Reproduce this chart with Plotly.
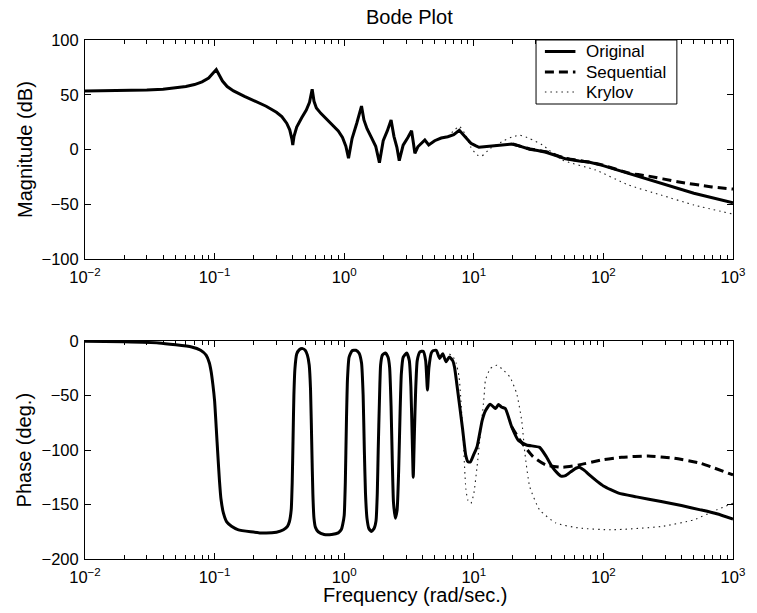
import plotly.graph_objects as go

# ---------------- data ----------------
# Magnitude (dB) - Original
mag_orig_f = [0.01, 0.015, 0.02, 0.03, 0.04, 0.05, 0.06, 0.07, 0.08, 0.09, 0.097, 0.103,
              0.108, 0.115, 0.125, 0.14, 0.17, 0.2, 0.25, 0.3, 0.33, 0.36, 0.38, 0.395,
              0.401, 0.41, 0.43, 0.47, 0.51, 0.54, 0.566, 0.585, 0.61, 0.66, 0.73, 0.82,
              0.9, 0.97, 1.03, 1.08, 1.15, 1.25, 1.36, 1.42, 1.5, 1.62, 1.75, 1.87, 2.0,
              2.15, 2.30, 2.42, 2.55, 2.66, 2.85, 3.1, 3.31, 3.42, 3.51, 3.7, 3.9, 4.19,
              4.49, 4.99, 5.6, 6.3, 7.0, 7.73, 8.3, 8.9, 9.5, 10.3, 10.96, 12.0, 13.4, 15.5,
              17.0, 19.6, 22.0, 24.0, 27.0, 31.0, 36.0, 43.0, 51.0, 65.0, 77.0, 98.0,
              156.0, 279.0, 499.0, 1000.0]
mag_orig_db = [53.4, 53.6, 53.8, 54.3, 55.0, 56.0, 57.5, 59.3, 61.8, 65.2, 69.0, 73.0,
               68.5, 62.5, 57.5, 53.5, 48.5, 45.0, 39.5, 34.0, 30.0, 24.0, 18.0, 9.5,
               4.1, 12.0, 20.5, 29.0, 36.0, 43.0, 55.0, 44.0, 38.0, 33.0, 28.0, 22.5,
               17.0, 11.0, 3.0, -8.0, 10.0, 24.0, 39.7, 27.0, 19.0, 11.0, 3.0, -12.0, 8.0,
               17.0, 26.9, 12.0, 2.0, -10.2, 4.0, 11.0, 17.2, 6.0, -3.5, 2.5, 5.5, 8.7,
               4.1, 8.0, 10.5, 11.7, 13.5, 17.5, 13.5, 9.0, 5.7, 3.5, 2.0, 2.5, 3.2, 4.0,
               4.5, 5.0, 3.5, 2.0, 0.2, -1.0, -2.5, -5.5, -8.5, -10.5, -11.5, -14.5,
               -21.7, -30.9, -40.0, -48.6]

# Magnitude (dB) - Sequential (where it departs from Original)
mag_seq_f = [20.0, 27.0, 36.0, 51.0, 77.0, 98.0, 156.0, 220.0, 373.0, 668.0, 1000.0]
mag_seq_db = [5.0, 0.5, -2.0, -8.0, -11.5, -14.0, -21.5, -24.2, -29.4, -34.0, -36.1]

# Magnitude (dB) - Krylov (where it departs from Original)
mag_kry_f = [6.3, 7.73, 8.6, 9.5, 10.6, 11.5, 13.4, 17.0, 20.0, 22.7, 27.0, 34.0, 48.0,
             87.0, 156.0, 279.0, 499.0, 1000.0]
mag_kry_db = [11.7, 21.0, 14.0, 2.0, -5.0, -6.0, 1.0, 8.0, 11.7, 13.0, 10.0, 4.0, -9.6,
              -18.7, -32.4, -41.6, -50.7, -59.0]

# Phase (deg.) - Original
ph_orig_f = [0.01, 0.02, 0.037, 0.0665, 0.078, 0.086, 0.091, 0.094, 0.097, 0.100, 0.103,
             0.106, 0.109, 0.112, 0.117, 0.124, 0.135, 0.151, 0.19, 0.24, 0.30, 0.34,
             0.365, 0.378, 0.39, 0.397, 0.403, 0.409, 0.417, 0.43, 0.45, 0.478, 0.50,
             0.52, 0.537, 0.55, 0.563, 0.573, 0.585, 0.60, 0.63, 0.70, 0.80, 0.90, 0.95,
             0.975, 1.0, 1.02, 1.04, 1.06, 1.09, 1.15, 1.23, 1.30, 1.36, 1.40, 1.43, 1.46,
             1.50, 1.55, 1.62, 1.70, 1.76, 1.80, 1.83, 1.87, 1.91, 1.97, 2.08, 2.18, 2.24,
             2.30, 2.35, 2.40, 2.48, 2.56, 2.63, 2.70, 2.76, 2.85, 3.04, 3.18, 3.27, 3.35,
             3.41, 3.48, 3.56, 3.66, 3.84, 4.07, 4.25, 4.39, 4.5, 4.7, 4.84, 5.13, 5.45,
             5.76, 6.1, 6.48, 6.87, 7.1, 7.48, 8.18, 8.67, 9.0, 9.4, 10.0, 10.6, 11.6,
             12.3, 13.4, 14.7, 15.5, 16.3, 17.5, 19.6, 22.0, 25.5, 32.2, 36.2, 40.0, 44.0,
             47.0, 51.0, 56.0, 62.0, 66.0, 71.0, 80.0, 90.0, 100.0, 131.0, 180.0, 279.0,
             400.0, 561.0, 750.0, 1000.0]
ph_orig_deg = [-0.3, -0.8, -1.8, -5.5, -8.5, -13.0, -20.0, -28.0, -40.0, -55.0, -80.0,
               -105.0, -128.0, -145.0, -158.0, -166.0, -170.0, -173.0, -175.0, -176.2,
               -175.5, -173.2, -170.0, -165.6, -155.0, -130.0, -90.0, -50.0, -25.0, -12.0,
               -8.0, -7.0, -8.5, -13.0, -22.0, -45.0, -100.0, -140.0, -163.0, -171.0,
               -175.0, -177.5, -177.5, -176.0, -173.0, -168.0, -160.0, -130.0, -75.0,
               -35.0, -15.0, -9.0, -8.5, -11.0, -20.0, -50.0, -100.0, -140.0, -163.0,
               -172.0, -174.7, -172.0, -165.0, -140.0, -100.0, -55.0, -22.0, -13.0, -11.0,
               -15.0, -24.0, -60.0, -110.0, -148.0, -162.5, -155.0, -120.0, -65.0, -30.0,
               -15.0, -11.0, -18.0, -42.0, -90.0, -125.0, -85.0, -45.0, -18.0, -10.0,
               -9.4, -18.0, -45.0, -25.0, -11.0, -9.0, -8.5, -16.0, -11.6, -19.0, -14.6,
               -18.0, -24.0, -44.0, -80.0, -105.0, -110.7, -111.0, -104.0, -97.0, -73.0,
               -64.0, -58.0, -62.0, -58.2, -60.5, -62.0, -78.7, -91.0, -95.4, -97.6,
               -106.0, -115.0, -121.0, -124.0, -123.5, -120.0, -116.5, -116.0, -118.5,
               -124.0, -129.0, -133.0, -139.6, -143.0, -147.3, -151.0, -154.9, -158.5,
               -163.4]

# Phase (deg.) - Sequential (where it departs from Original)
ph_seq_f = [19.6, 22.7, 28.6, 36.0, 48.4, 65.0, 98.0, 138.0, 221.0, 351.0, 561.0, 1000.0]
ph_seq_deg = [-78.7, -91.0, -106.0, -113.7, -115.8, -113.7, -109.0, -106.7, -105.5,
              -107.6, -112.2, -122.9]

# Phase (deg.) - Krylov (where it departs from Original)
ph_kry_f = [6.48, 6.87, 7.3, 7.7, 8.2, 8.69, 9.0, 9.5, 10.0, 10.6, 12.0, 12.3, 13.4, 15.1,
            17.0, 19.0, 21.4, 23.4, 24.8, 27.0, 32.2, 43.0, 65.0, 116.0, 279.0, 499.0,
            750.0, 1000.0]
ph_kry_deg = [-12.0, -14.0, -20.0, -33.0, -80.0, -136.0, -146.0, -149.0, -140.0, -115.0,
              -51.0, -36.0, -25.3, -22.2, -27.0, -33.0, -48.0, -72.6, -103.0, -133.6,
              -154.9, -167.0, -171.6, -173.2, -170.2, -164.0, -154.9, -148.8]

x_tickvals = [0.01, 0.1, 1, 10, 100, 1000]
x_ticktext = ["10<sup>\u22122</sup>", "10<sup>\u22121</sup>", "10<sup>0</sup>",
              "10<sup>1</sup>", "10<sup>2</sup>", "10<sup>3</sup>"]
mag_ticks = [-100, -50, 0, 50, 100]
ph_ticks = [-200, -150, -100, -50, 0]

names = ["Original", "Sequential", "Krylov"]

# ---------------- figure ----------------
FONT = "Liberation Sans, Arial, Helvetica, sans-serif"
W, H = 757, 613
ML, MR, MT, MB = 85, 14, 40, 54
PW, PH = W - ML - MR, H - MT - MB


def px_x(px):
    return (px - ML) / PW


def px_y(py):
    return (H - MB - py) / PH


fig = go.Figure()

kry_style = dict(color="#222222", width=1.1, dash="1.5px,4px")
seq_style = dict(color="black", width=3, dash="9px,5px")
orig_style = dict(color="black", width=3)
smooth = dict(shape="spline", smoothing=0.5)
styles = [orig_style, seq_style, kry_style]

# top subplot
fig.add_trace(go.Scatter(x=mag_kry_f, y=mag_kry_db, mode="lines",
                         line=dict(kry_style, **smooth), name=names[2],
                         showlegend=False, xaxis="x", yaxis="y"))
fig.add_trace(go.Scatter(x=mag_seq_f, y=mag_seq_db, mode="lines",
                         line=dict(seq_style, **smooth), name=names[1],
                         showlegend=False, xaxis="x", yaxis="y"))
fig.add_trace(go.Scatter(x=mag_orig_f, y=mag_orig_db, mode="lines", line=orig_style,
                         name=names[0], showlegend=False, xaxis="x", yaxis="y"))
# bottom subplot
fig.add_trace(go.Scatter(x=ph_kry_f, y=ph_kry_deg, mode="lines",
                         line=dict(kry_style, **smooth), name=names[2],
                         showlegend=False, xaxis="x2", yaxis="y2"))
fig.add_trace(go.Scatter(x=ph_seq_f, y=ph_seq_deg, mode="lines",
                         line=dict(seq_style, **smooth), name=names[1],
                         showlegend=False, xaxis="x2", yaxis="y2"))
fig.add_trace(go.Scatter(x=ph_orig_f, y=ph_orig_deg, mode="lines",
                         line=dict(orig_style, **smooth), name=names[0],
                         showlegend=False, xaxis="x2", yaxis="y2"))

common_x = dict(type="log", range=[-2, 3], showgrid=False, zeroline=False,
                showline=True, linecolor="black", linewidth=1, mirror="ticks",
                ticks="inside", ticklen=6, tickcolor="black", tickwidth=1,
                tickvals=x_tickvals, ticktext=x_ticktext, ticklabelstandoff=3,
                tickfont=dict(family=FONT, size=16.5, color="black"),
                minor=dict(ticks="inside", ticklen=4, tickcolor="black", tickwidth=1,
                           dtick="D1", showgrid=False))
common_y = dict(showgrid=False, zeroline=False, showline=True, linecolor="black",
                linewidth=1, mirror="ticks", ticks="inside", ticklen=6,
                tickcolor="black", tickwidth=1, ticklabelstandoff=2,
                tickfont=dict(family=FONT, size=16.5, color="black"))

# legend box drawn in the top axes' corner (legend layout, not data)
shapes = [dict(type="rect", xref="paper", yref="paper", x0=px_x(543), x1=px_x(686),
               y0=px_y(104), y1=px_y(40), line=dict(color="black", width=1),
               fillcolor="white", layer="above")]
annotations = []
legend_rows = [51.5, 72, 92]
for name, style, row in zip(names, styles, legend_rows):
    shapes.append(dict(type="line", xref="paper", yref="paper", x0=px_x(552),
                       x1=px_x(583), y0=px_y(row), y1=px_y(row),
                       line=dict(color=style["color"], width=style["width"],
                                 dash=style.get("dash", "solid")),
                       layer="above"))
    annotations.append(dict(text=name, xref="paper", yref="paper", x=px_x(592),
                            y=px_y(row), xanchor="left", yanchor="middle",
                            showarrow=False,
                            font=dict(family=FONT, size=17, color="black")))

annotations += [
    dict(text="Bode Plot", xref="paper", yref="paper", x=0.5, y=px_y(17),
         xanchor="center", yanchor="middle", showarrow=False,
         font=dict(family=FONT, size=20, color="black")),
    dict(text="Frequency (rad/sec.)", xref="paper", yref="paper",
         x=px_x(421), y=px_y(595), xanchor="center", yanchor="middle",
         showarrow=False, font=dict(family=FONT, size=20, color="black")),
    dict(text="Magnitude (dB)", xref="paper", yref="paper",
         x=px_x(23.5), y=px_y(149.5), xanchor="center",
         yanchor="middle", textangle=-90, showarrow=False,
         font=dict(family=FONT, size=20, color="black")),
    dict(text="Phase (deg.)", xref="paper", yref="paper",
         x=px_x(23.5), y=px_y(450), xanchor="center",
         yanchor="middle", textangle=-90, showarrow=False,
         font=dict(family=FONT, size=20, color="black")),
]

fig.update_layout(
    width=W, height=H,
    margin=dict(l=ML, r=MR, t=MT, b=MB),
    paper_bgcolor="white", plot_bgcolor="white",
    font=dict(family=FONT, size=16, color="black"),
    xaxis=dict(common_x, domain=[0, 1], anchor="y"),
    xaxis2=dict(common_x, domain=[0, 1], anchor="y2"),
    yaxis=dict(common_y, domain=[px_y(259), 1], range=[-100, 100], tickvals=mag_ticks,
               ticktext=[str(v).replace("-", "\u2212") for v in mag_ticks], anchor="x"),
    yaxis2=dict(common_y, domain=[0, px_y(341)], range=[-200, 0], tickvals=ph_ticks,
                ticktext=[str(v).replace("-", "\u2212") for v in ph_ticks], anchor="x2"),
    showlegend=False,
    shapes=shapes,
    annotations=annotations,
)

fig.write_html(
    "out.html",
    config={"displayModeBar": False},
    post_script="document.body.style.margin='0px';document.body.style.padding='0px';"
                "document.documentElement.style.overflow='hidden';",
)
